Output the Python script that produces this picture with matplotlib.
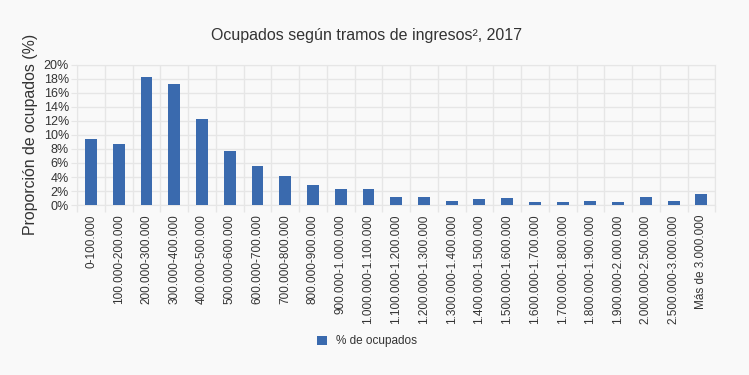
import numpy as np
import matplotlib
matplotlib.use("Agg")
import matplotlib.pyplot as plt
from matplotlib.ticker import FixedLocator, PercentFormatter

plt.rcParams["font.family"] = ["Liberation Sans", "DejaVu Sans"]

# --- Data ---
tramos = [
    "0-100.000", "100.000-200.000", "200.000-300.000", "300.000-400.000",
    "400.000-500.000", "500.000-600.000", "600.000-700.000", "700.000-800.000",
    "800.000-900.000", "900.000-1.000.000", "1.000.000-1.100.000",
    "1.100.000-1.200.000", "1.200.000-1.300.000", "1.300.000-1.400.000",
    "1.400.000-1.500.000", "1.500.000-1.600.000", "1.600.000-1.700.000",
    "1.700.000-1.800.000", "1.800.000-1.900.000", "1.900.000-2.000.000",
    "2.000.000-2.500.000", "2.500.000-3.000.000", "Más de 3.000.000",
]
ocupados = [9.4, 8.7, 18.2, 17.2, 12.2, 7.7, 5.6, 4.1, 2.9, 2.3, 2.3,
            1.1, 1.1, 0.6, 0.9, 1.0, 0.4, 0.4, 0.6, 0.4, 1.1, 0.6, 1.6]

BG = "#f9f9f9"
BAR = "#3a6aae"
GRID = "#e6e6e6"
TXT = "#333333"

fig = plt.figure(figsize=(7.49, 3.75), dpi=100, facecolor=BG)
ax = fig.add_axes([0.103, 0.453, 0.852, 0.375], facecolor=BG)

x = np.arange(len(tramos))
ax.bar(x, ocupados, width=0.43, color=BAR, label="% de ocupados", zorder=3)

ax.set_xlim(-0.5, len(tramos) - 0.5)
ax.set_ylim(0, 20)
ax.set_yticks(np.arange(0, 21, 2))
ax.yaxis.set_major_formatter(PercentFormatter(decimals=0))

ax.set_xticks(x)
ax.set_xticklabels(tramos, rotation=90, fontsize=8.5, color=TXT)
ax.tick_params(axis="x", which="major", length=0, pad=6.5)
ax.xaxis.set_minor_locator(FixedLocator(np.arange(-0.5, len(tramos), 1)))
ax.tick_params(axis="x", which="minor", length=5, color=GRID, width=1)
ax.tick_params(axis="y", length=4, color=GRID, labelsize=9, labelcolor=TXT, pad=2)

ax.grid(True, axis="y", color=GRID, linewidth=1, zorder=0)
ax.grid(True, axis="x", which="minor", color=GRID, linewidth=1, zorder=0)
ax.grid(False, axis="x", which="major")
for s in ax.spines.values():
    s.set_color(GRID)

ax.set_ylabel("Proporción de ocupados (%)", fontsize=11.4, color=TXT, labelpad=4)
fig.suptitle("Ocupados según tramos de ingresos², 2017", fontsize=11.5, color=TXT,
             x=0.489, y=0.925)

fig.legend(loc="center", bbox_to_anchor=(0.49, 0.09), frameon=False,
           fontsize=8.5, handlelength=0.8, handleheight=0.8, labelcolor=TXT)

fig.savefig("out.png", dpi=100, facecolor=BG)
